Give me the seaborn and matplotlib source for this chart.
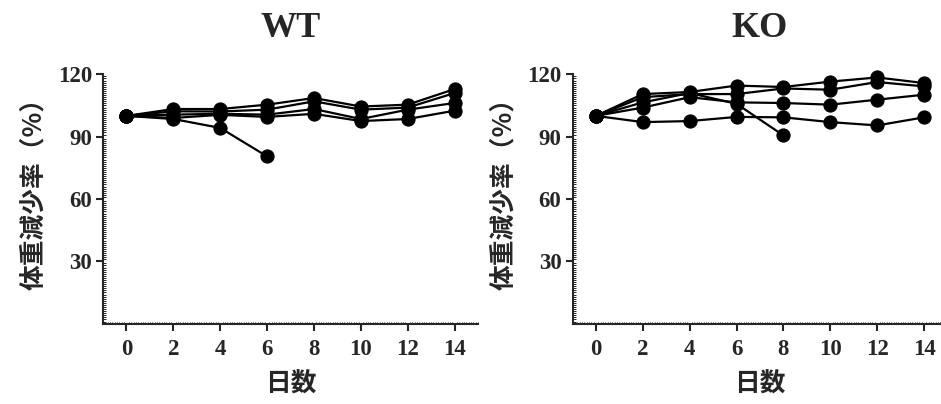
import numpy as np
import pandas as pd
import matplotlib
matplotlib.use("Agg")
import matplotlib.pyplot as plt
from matplotlib.ticker import MultipleLocator
import seaborn as sns

days = [0, 2, 4, 6, 8, 10, 12, 14]

# Body weight (% of day 0) per mouse; NaN after a mouse is lost
wt_m1 = [100, 103.3, 103.3, 105.4, 108.6, 104.5, 105.4, 112.9]
wt_m2 = [100, 102.2, 102.1, 103.0, 107.0, 103.0, 104.0, 111.0]
wt_m3 = [100, 100.6, 101.0, 100.6, 103.3, 98.5, 103.0, 106.2]
wt_m4 = [100, 99.0, 100.5, 99.5, 101.0, 97.5, 98.5, 102.5]
wt_m5 = [100, 98.5, 94.2, 80.5, np.nan, np.nan, np.nan, np.nan]

ko_m1 = [100, 110.5, 111.5, 114.6, 113.9, 116.5, 118.5, 115.8]
ko_m2 = [100, 109.0, 110.5, 110.5, 113.2, 112.6, 116.3, 114.2]
ko_m3 = [100, 104.0, 109.0, 106.5, 106.2, 105.4, 107.8, 110.2]
ko_m4 = [100, 106.5, 111.0, 105.8, 90.6, np.nan, np.nan, np.nan]
ko_m5 = [100, 97.0, 97.5, 99.5, 99.3, 97.0, 95.4, 99.3]

groups = {
    "WT": [wt_m1, wt_m2, wt_m3, wt_m4, wt_m5],
    "KO": [ko_m1, ko_m2, ko_m3, ko_m4, ko_m5],
}

x_ticks = [0, 2, 4, 6, 8, 10, 12, 14]
y_ticks = [30, 60, 90, 120]
y_label = "体重減少率（%）"
x_label = "日数"

sns.set_style("ticks")
plt.rcParams["font.family"] = ["Liberation Serif", "DejaVu Serif"]

fig = plt.figure(figsize=(9.41, 4.04), dpi=100)
positions = [
    [0.1095, 0.199, 0.3985, 0.617],
    [0.6084, 0.199, 0.3985, 0.617],
]

cjk = ["Noto Sans CJK JP", "DejaVu Sans"]

for pos, (name, mice) in zip(positions, groups.items()):
    ax = fig.add_axes(pos)
    rows = []
    for i, w in enumerate(mice):
        for d, v in zip(days, w):
            if not np.isnan(v):
                rows.append({"day": d, "weight": v, "mouse": i})
    df = pd.DataFrame(rows)
    sns.lineplot(data=df, x="day", y="weight", units="mouse", estimator=None,
                 color="black", lw=1.6, marker="o", markersize=9.5,
                 markeredgecolor="black", ax=ax, clip_on=False)

    ax.set_xlim(-1, 15)
    ax.set_ylim(0, 120)
    ax.set_xticks(x_ticks)
    ax.set_yticks(y_ticks)
    ax.xaxis.set_minor_locator(MultipleLocator(0.1))
    ax.yaxis.set_minor_locator(MultipleLocator(1))
    for side in ("top", "right"):
        ax.spines[side].set_visible(False)
    for side in ("left", "bottom"):
        ax.spines[side].set_linewidth(1.5)
    ax.tick_params(which="major", direction="out", length=5, width=1.5,
                   labelsize=16.5)
    ax.tick_params(axis="x", which="major", pad=6)
    ax.tick_params(axis="y", which="major", pad=3)
    ax.tick_params(which="minor", direction="in", length=1.8, width=0.7)
    for lab in ax.get_xticklabels() + ax.get_yticklabels():
        lab.set_fontweight("bold")

    ax.set_title(name, fontsize=26, fontweight="bold", pad=27)
    ax.set_xlabel(x_label, family=cjk, fontsize=18.5, fontweight="bold", labelpad=8)
    ax.set_ylabel(y_label, family=cjk, fontsize=18.5, fontweight="bold")
    ax.yaxis.set_label_coords(-0.148, 0.545)

fig.savefig("out.png", dpi=100)
